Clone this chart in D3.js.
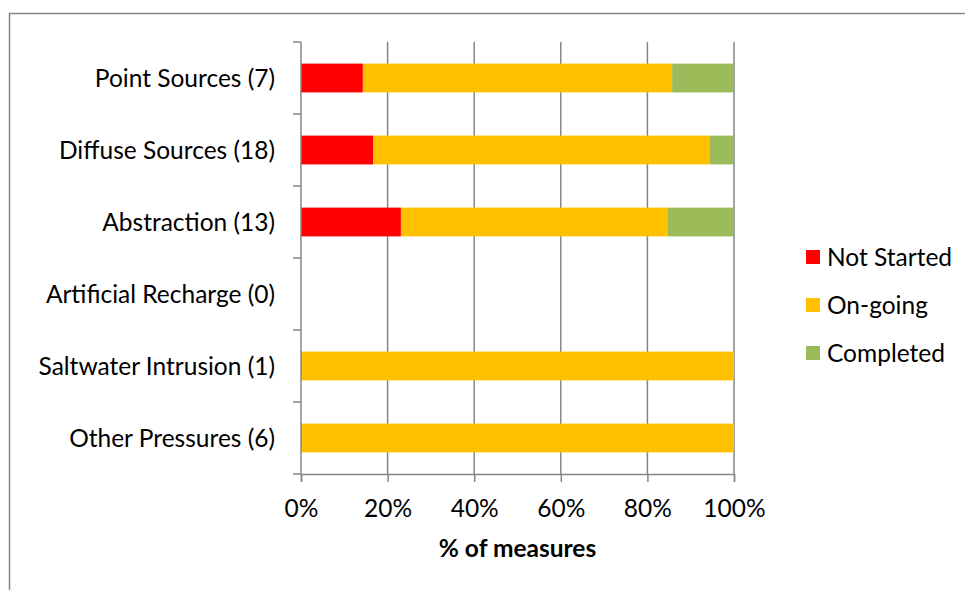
<!DOCTYPE html>
<html>
<head>
<meta charset="utf-8">
<script src="https://cdn.jsdelivr.net/npm/d3@7"></script>
<style>
  html, body { margin: 0; padding: 0; background: #fff; }
  svg { display: block; font-family: Lato, "Open Sans", sans-serif; }
</style>
</head>
<body>
<svg id="chart" width="965" height="590"></svg>
<script>
// Categories, top to bottom
const categories = [
  "Point Sources (7)",
  "Diffuse Sources (18)",
  "Abstraction (13)",
  "Artificial Recharge (0)",
  "Saltwater Intrusion (1)",
  "Other Pressures (6)"
];
// Share of measures per status (fractions of each category's total)
const notStarted = [1/7, 3/18, 3/13, 0, 0, 0];
const onGoing    = [5/7, 14/18, 8/13, 0, 1, 1];
const completed  = [1/7, 1/18, 2/13, 0, 0, 0];

const seriesNames  = ["Not Started", "On-going", "Completed"];
const seriesColors = ["#FF0000", "#FFC000", "#9BBB59"];
const xTicks = [0, 0.2, 0.4, 0.6, 0.8, 1.0];
const xTitle = "% of measures";

const svg = d3.select("#chart");
const grid = "#868686";
const fs = 24.5;

// Outer chart frame
svg.append("rect")
  .attr("x", 9.5).attr("y", 13.5)
  .attr("width", 1000).attr("height", 1000)
  .attr("fill", "none").attr("stroke", grid).attr("stroke-width", 1.5);

const plotLeft = 301, plotRight = 734, plotTop = 42, plotBottom = 474;

const x = d3.scaleLinear().domain([0, 1]).range([plotLeft, plotRight]);
const y = d3.scaleBand().domain(categories).range([plotTop, plotBottom]).paddingInner(0.6).paddingOuter(0.3);

// Vertical gridlines
svg.append("g").selectAll("line")
  .data(xTicks.slice(1))
  .join("line")
  .attr("x1", d => x(d)).attr("x2", d => x(d))
  .attr("y1", plotTop).attr("y2", plotBottom)
  .attr("stroke", grid).attr("stroke-width", 1.5);

// Stacked bars
const rows = categories.map((c, i) => ({ cat: c, "Not Started": notStarted[i], "On-going": onGoing[i], "Completed": completed[i] }));
const stack = d3.stack().keys(seriesNames)(rows);

svg.append("g").selectAll("g")
  .data(stack)
  .join("g")
  .attr("fill", (d, i) => seriesColors[i])
  .selectAll("rect")
  .data(d => d)
  .join("rect")
  .attr("x", d => x(d[0]))
  .attr("y", d => y(d.data.cat))
  .attr("width", d => Math.max(0, x(d[1]) - x(d[0])))
  .attr("height", y.bandwidth());

// Y axis line with ticks between categories
const yAxisG = svg.append("g");
yAxisG.append("line")
  .attr("x1", plotLeft).attr("x2", plotLeft).attr("y1", plotTop).attr("y2", plotBottom)
  .attr("stroke", grid).attr("stroke-width", 1.5);
const step = (plotBottom - plotTop) / categories.length;
yAxisG.selectAll("line.tk")
  .data(d3.range(categories.length + 1))
  .join("line").attr("class", "tk")
  .attr("x1", plotLeft - 8).attr("x2", plotLeft)
  .attr("y1", d => plotTop + d * step).attr("y2", d => plotTop + d * step)
  .attr("stroke", grid).attr("stroke-width", 1.5);
yAxisG.selectAll("text")
  .data(categories)
  .join("text")
  .attr("x", 275)
  .attr("y", d => y(d) + y.bandwidth() / 2)
  .attr("dy", "0.35em")
  .attr("text-anchor", "end")
  .attr("font-size", fs)
  .attr("fill", "#000")
  .text(d => d);

// X axis
const xAxis = d3.axisBottom(x).tickValues(xTicks).tickFormat(d3.format(".0%")).tickSize(8);
const xg = svg.append("g").attr("transform", `translate(0,${plotBottom})`).call(xAxis);
xg.select(".domain").attr("stroke", grid).attr("stroke-width", 1.5);
xg.selectAll(".tick line").attr("stroke", grid).attr("stroke-width", 1.5);
xg.selectAll(".tick text")
  .attr("y", 43).attr("dy", 0)
  .attr("font-size", fs).attr("fill", "#000")
  .attr("font-family", "Lato, 'Open Sans', sans-serif");

svg.append("text")
  .attr("x", (plotLeft + plotRight) / 2).attr("y", 557)
  .attr("text-anchor", "middle")
  .attr("font-size", fs).attr("font-weight", "bold")
  .text(xTitle);

// Legend
const legend = svg.append("g").selectAll("g")
  .data(seriesNames)
  .join("g")
  .attr("transform", (d, i) => `translate(806,${257 + i * 48})`);
legend.append("rect")
  .attr("x", 0).attr("y", -7).attr("width", 14).attr("height", 14)
  .attr("fill", (d, i) => seriesColors[i]);
legend.append("text")
  .attr("x", 21).attr("y", 0).attr("dy", "0.35em")
  .attr("font-size", fs).text(d => d);
</script>
</body>
</html>
